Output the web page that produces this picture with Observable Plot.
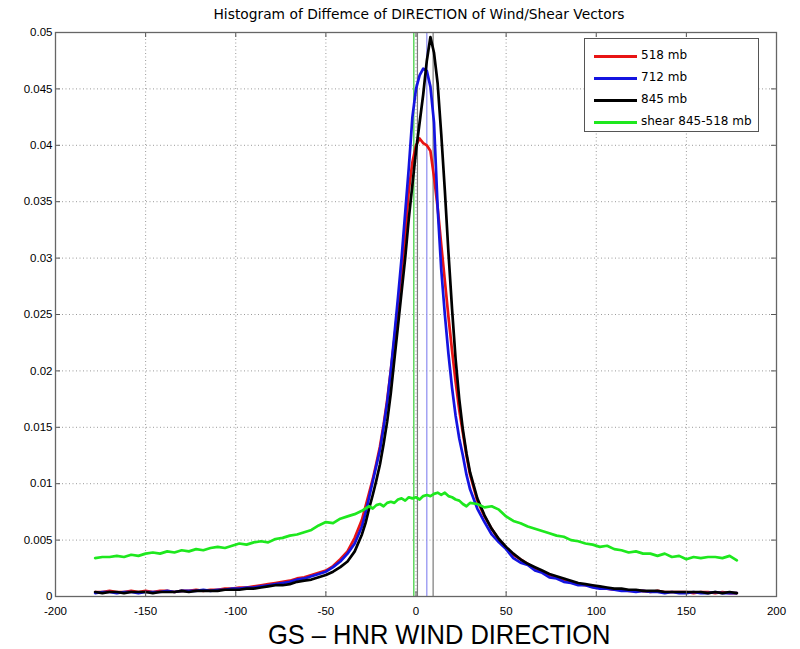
<!DOCTYPE html>
<html>
<head>
<meta charset="utf-8">
<script src="https://cdn.jsdelivr.net/npm/d3@7"></script>
<script src="https://cdn.jsdelivr.net/npm/@observablehq/plot@0.6"></script>
<style>
  html, body { margin: 0; padding: 0; background: #fff; }
  #wrap { position: relative; width: 800px; height: 649px; overflow: hidden; }
  #legend { position: absolute; left: 584px; top: 38px; width: 173px; height: 92px;
            border: 1px solid #555; background: #fff;
            font-family: "DejaVu Sans", "Liberation Sans", Arial, sans-serif; font-size: 12px; color: #000; }
  .entry { position: absolute; left: 0; height: 20px; width: 173px; }
  .entry .sw { position: absolute; left: 9px; width: 43px; height: 3px; top: 9px; }
  .entry .lb { position: absolute; left: 56px; top: 2px; white-space: nowrap; }
  #xlabel { position: absolute; left: 0; width: 800px; top: 624px; text-align: center;
            font-family: "Liberation Sans", Arial, sans-serif; font-size: 28px; line-height: 22px; color: #000; }
  #xlabel span { display: inline-block; transform: scaleX(0.91); transform-origin: center; position: relative; left: 39px; }
</style>
</head>
<body>
<div id="wrap"><div id="chart"></div><div id="legend"></div><div id="xlabel"><span></span></div></div>
<script>
// ---- data ----
const xBins = [-178,-174,-170,-166,-162,-158,-154,-150,-146,-142,-138,-134,-130,-126,-122,-118,-114,-110,-106,-102,
  -98,-94,-90,-86,-82,-78,-74,-70,-66,-62,-58,-54,-50,-46,-42,-38,-34,-30,
  -28,-26,-24,-22,-20,-18,-16,-14,-12,-10,-8,-6,-4,-2,0,2,4,6,8,10,12,14,16,18,20,22,24,26,28,30,
  34,38,42,46,50,54,58,62,66,70,74,78,82,86,90,94,98,102,106,110,114,118,122,126,130,134,138,142,146,150,
  154,158,162,166,170,174,178];

const mb518 = [0.0004,0.0004,0.0005,0.0004,0.0004,0.0005,0.0004,0.0005,0.0004,0.0005,0.0005,0.0004,0.0005,0.0005,0.0006,0.0005,0.0006,0.0006,0.0007,0.0007,
  0.0008,0.0008,0.0009,0.0010,0.0011,0.0012,0.0013,0.0014,0.0016,0.0017,0.0019,0.0021,0.0023,0.0027,0.0033,0.0040,0.0052,0.0068,
  0.0080,0.0092,0.0104,0.0118,0.0133,0.0152,0.0174,0.0200,0.0228,0.0258,0.0288,0.0320,0.0360,0.0385,0.0400,0.0406,0.0402,0.0400,0.0395,0.0372,0.0345,0.0312,0.0280,0.0248,0.0218,0.0190,0.0165,0.0145,0.0125,0.0108,
  0.0085,0.0071,0.0060,0.0050,0.0043,0.0037,0.0033,0.0029,0.0025,0.0022,0.0019,0.0017,0.0015,0.0013,0.0011,0.0010,0.0009,0.0008,0.0007,0.0006,0.0006,0.0005,0.0005,0.0005,0.0004,0.0005,0.0004,0.0004,0.0004,0.0004,
  0.0003,0.0004,0.0004,0.0003,0.0004,0.0003,0.0003];

const mb712 = [0.0003,0.0004,0.0004,0.0003,0.0004,0.0004,0.0003,0.0004,0.0004,0.0004,0.0005,0.0004,0.0005,0.0005,0.0005,0.0006,0.0005,0.0006,0.0006,0.0007,
  0.0007,0.0008,0.0008,0.0009,0.0010,0.0011,0.0012,0.0013,0.0015,0.0016,0.0018,0.0020,0.0022,0.0026,0.0031,0.0038,0.0047,0.0062,
  0.0074,0.0088,0.0102,0.0116,0.0130,0.0150,0.0172,0.0200,0.0232,0.0265,0.0300,0.0340,0.0380,0.0425,0.0450,0.0462,0.0468,0.0466,0.0452,0.0420,0.0345,0.0290,0.0250,0.0215,0.0185,0.0160,0.0140,0.0125,0.0108,0.0095,
  0.0078,0.0066,0.0055,0.0048,0.0042,0.0034,0.0030,0.0028,0.0023,0.0021,0.0017,0.0016,0.0013,0.0012,0.0010,0.0010,0.0008,0.0007,0.0007,0.0006,0.0005,0.0005,0.0004,0.0005,0.0004,0.0004,0.0003,0.0004,0.0003,0.0003,
  0.0004,0.0003,0.0003,0.0004,0.0003,0.0003,0.0003];

const mb845 = [0.0004,0.0003,0.0004,0.0004,0.0003,0.0004,0.0004,0.0004,0.0003,0.0004,0.0004,0.0004,0.0005,0.0004,0.0005,0.0005,0.0005,0.0005,0.0006,0.0006,
  0.0006,0.0007,0.0007,0.0008,0.0009,0.0010,0.0010,0.0011,0.0013,0.0014,0.0015,0.0017,0.0019,0.0022,0.0026,0.0031,0.0040,0.0055,
  0.0065,0.0078,0.0090,0.0103,0.0117,0.0135,0.0155,0.0180,0.0210,0.0240,0.0270,0.0300,0.0335,0.0365,0.0395,0.0420,0.0445,0.0475,0.0496,0.0482,0.0455,0.0410,0.0360,0.0305,0.0255,0.0210,0.0175,0.0148,0.0127,0.0110,
  0.0087,0.0072,0.0060,0.0051,0.0044,0.0038,0.0033,0.0029,0.0026,0.0023,0.0020,0.0018,0.0016,0.0014,0.0012,0.0011,0.0010,0.0009,0.0008,0.0007,0.0007,0.0006,0.0006,0.0005,0.0005,0.0005,0.0004,0.0004,0.0004,0.0004,
  0.0004,0.0004,0.0003,0.0004,0.0003,0.0004,0.0003];

const shear = [0.0034,0.0035,0.0035,0.0036,0.0035,0.0037,0.0036,0.0038,0.0039,0.0038,0.0040,0.0039,0.0041,0.0040,0.0042,0.0041,0.0043,0.0044,0.0043,0.0045,
  0.0047,0.0046,0.0048,0.0049,0.0048,0.0051,0.0052,0.0054,0.0055,0.0057,0.0059,0.0063,0.0066,0.0065,0.0069,0.0071,0.0073,0.0076,
  0.0078,0.0080,0.0078,0.0081,0.0082,0.0080,0.0083,0.0084,0.0083,0.0086,0.0087,0.0085,0.0088,0.0087,0.0088,0.0086,0.0089,0.0090,0.0089,0.0091,0.0092,0.0090,0.0092,0.0089,0.0088,0.0086,0.0085,0.0082,0.0080,0.0083,
  0.0082,0.0079,0.0080,0.0077,0.0071,0.0067,0.0065,0.0062,0.0060,0.0058,0.0056,0.0054,0.0053,0.0050,0.0049,0.0047,0.0046,0.0044,0.0045,0.0042,0.0041,0.0039,0.0040,0.0038,0.0038,0.0036,0.0038,0.0035,0.0036,0.0033,
  0.0035,0.0034,0.0035,0.0035,0.0034,0.0036,0.0032];

const seriesNames = ["518 mb", "712 mb", "845 mb", "shear 845-518 mb"];
const seriesColors = ["#e81414", "#1414e0", "#000000", "#1ee81e"];
const seriesValues = [mb518, mb712, mb845, shear];

// vertical reference lines (means)
const meanX = [-1.2, 0.8, 6.0, 9.5];
const meanColors = ["#33cc33", "#7a7a7a", "#8c8cf0", "#7a7a7a"];

const xTicks = [-200, -150, -100, -50, 0, 50, 100, 150, 200];
const yTicks = [0, 0.005, 0.01, 0.015, 0.02, 0.025, 0.03, 0.035, 0.04, 0.045, 0.05];

const titleText = "Histogram of Diffemce of DIRECTION of Wind/Shear Vectors";
const xLabelText = "GS \u2013 HNR WIND DIRECTION";

// ---- build ----
const W = 800, H = 649, mT = 32, mB = 53, mL = 55, mR = 24;
const frameW = W - mL - mR, frameH = H - mT - mB;
const tick = 5;

const rowsFor = vals => xBins.map((x, i) => ({x, y: vals[i]}));
const meanRows = meanX.map((x, i) => ({x, c: meanColors[i]}));

const lineMarks = seriesValues.map((vals, i) =>
  Plot.line(rowsFor(vals), {x: "x", y: "y", stroke: seriesColors[i], strokeWidth: 2.7, strokeLinejoin: "round"}));

const chart = Plot.plot({
  width: W, height: H,
  marginTop: mT, marginBottom: mB, marginLeft: mL, marginRight: mR,
  x: {domain: [-200, 200], label: null},
  y: {domain: [0, 0.05], label: null},
  style: {fontFamily: "'Liberation Sans', Arial, sans-serif", fontSize: "11.5px", background: "#fff", color: "#000"},
  marks: [
    Plot.gridX(xTicks.slice(1, -1), {stroke: "#9a9a9a", strokeOpacity: 1, strokeDasharray: "1,2.5"}),
    Plot.gridY(yTicks.slice(1, -1), {stroke: "#9a9a9a", strokeOpacity: 1, strokeDasharray: "1,2.5"}),
    ...meanRows.map(r => Plot.ruleX([r.x], {stroke: r.c, strokeWidth: 1.2})),
    ...lineMarks,
    Plot.tickX(xTicks, {x: d => d, stroke: "#555", insetTop: frameH - tick}),
    Plot.tickX(xTicks, {x: d => d, stroke: "#555", insetBottom: frameH - tick}),
    Plot.tickY(yTicks, {y: d => d, stroke: "#555", insetRight: frameW - tick}),
    Plot.tickY(yTicks, {y: d => d, stroke: "#555", insetLeft: frameW - tick}),
    Plot.frame({stroke: "#666", strokeWidth: 1.3}),
    Plot.axisX({ticks: xTicks, tickSize: 0, tickPadding: 10, tickFormat: d => String(d), label: null, fill: "#000"}),
    Plot.axisY({ticks: yTicks, tickSize: 0, tickPadding: 3, tickFormat: d => String(d), label: null, fill: "#000"}),
    Plot.text([titleText], {frameAnchor: "top", lineAnchor: "middle", dy: -18, dx: 3, fontSize: 13.8,
      fontFamily: "'DejaVu Sans', 'Liberation Sans', sans-serif", fill: "#000"})
  ]
});
document.getElementById("chart").appendChild(chart);

document.querySelector("#xlabel span").textContent = xLabelText;

// legend
const legend = document.getElementById("legend");
const legendY = [7, 29, 51, 73];
seriesNames.forEach((name, i) => {
  const e = document.createElement("div");
  e.className = "entry";
  e.style.top = legendY[i] + "px";
  const sw = document.createElement("div");
  sw.className = "sw";
  sw.style.background = seriesColors[i];
  const lb = document.createElement("div");
  lb.className = "lb";
  lb.textContent = name;
  e.appendChild(sw); e.appendChild(lb);
  legend.appendChild(e);
});
</script>
</body>
</html>
